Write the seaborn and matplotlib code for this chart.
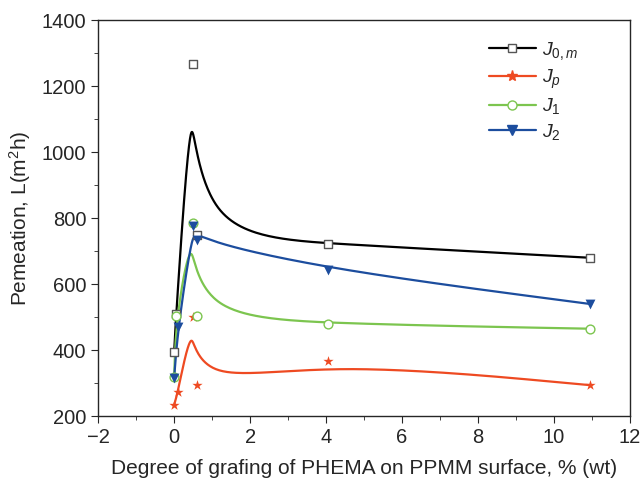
import numpy as np
import pandas as pd
import matplotlib
matplotlib.use("Agg")
import matplotlib.pyplot as plt
import seaborn as sns
from matplotlib.lines import Line2D
from matplotlib.ticker import MultipleLocator

# data
x_j0m = [0.0, 0.05, 0.5, 0.6, 4.05, 10.95]
y_j0m = [395, 510, 1268, 750, 723, 680]
x_jp = [0.0, 0.1, 0.5, 0.6, 4.05, 10.95]
y_jp = [234, 274, 501, 293, 367, 294]
x_j1 = [0.0, 0.05, 0.5, 0.6, 4.05, 10.95]
y_j1 = [320, 505, 785, 505, 480, 465]
x_j2 = [0.0, 0.1, 0.5, 0.6, 4.05, 10.95]
y_j2 = [317, 470, 775, 735, 644, 540]

labels = [r"$J_{\mathit{0,m}}$", r"$J_{\mathit{p}}$", r"$J_{\mathit{1}}$", r"$J_{\mathit{2}}$"]
colors = ["black", "#ee4a22", "#7cc54f", "#1c4d9e"]


def bspline(px, py, n=60):
    # uniform cubic B-spline, end points tripled so the curve reaches them
    P = np.column_stack([px, py]).astype(float)
    P = np.vstack([P[:1], P[:1], P, P[-1:], P[-1:]])
    M = np.array([[-1, 3, -3, 1], [3, -6, 3, 0], [-3, 0, 3, 0], [1, 4, 1, 0]]) / 6.0
    u = np.linspace(0, 1, n)
    U = np.column_stack([u ** 3, u ** 2, u, np.ones_like(u)])
    pts = [U @ M @ P[i:i + 4] for i in range(len(P) - 3)]
    pts = np.vstack(pts)
    return pts[:, 0], pts[:, 1]


sns.set_style("ticks")
plt.rcParams["font.family"] = ["Liberation Sans", "DejaVu Sans"]
plt.rcParams["mathtext.fontset"] = "custom"
plt.rcParams["mathtext.rm"] = "Liberation Sans"
plt.rcParams["mathtext.it"] = "Liberation Sans:italic"

fig = plt.figure(figsize=(6.42, 4.8), dpi=100)
ax = fig.add_axes([0.153, 0.133, 0.828, 0.825])

series = [(x_j0m, y_j0m), (x_jp, y_jp), (x_j1, y_j1), (x_j2, y_j2)]
markers = ["s", "*", "o", "v"]
handles = []
for (xs, ys), c, mk, lab in zip(series, colors, markers, labels):
    cx, cy = bspline(xs, ys)
    sns.lineplot(x=cx, y=cy, sort=False, color=c, lw=1.6, ax=ax, estimator=None)
    if mk == "s":
        kw = dict(facecolor="white", edgecolor="#555555", s=30, linewidth=1)
        hk = dict(markerfacecolor="white", markeredgecolor="#555555", markersize=6)
    elif mk == "o":
        kw = dict(facecolor="white", edgecolor=c, s=40, linewidth=1)
        hk = dict(markerfacecolor="white", markeredgecolor=c, markersize=6.5)
    elif mk == "*":
        kw = dict(color=c, s=60, linewidth=0)
        hk = dict(markerfacecolor=c, markeredgecolor=c, markersize=8)
    else:
        kw = dict(color=c, s=50, linewidth=0)
        hk = dict(markerfacecolor=c, markeredgecolor=c, markersize=7)
    sns.scatterplot(x=xs, y=ys, marker=mk, ax=ax, zorder=5, **kw)
    handles.append(Line2D([], [], color=c, lw=1.6, marker=mk, label=lab, **hk))

ax.set_xlim(-2, 12)
ax.set_ylim(200, 1400)
ax.xaxis.set_major_locator(MultipleLocator(2))
ax.xaxis.set_minor_locator(MultipleLocator(1))
ax.yaxis.set_major_locator(MultipleLocator(200))
ax.yaxis.set_minor_locator(MultipleLocator(100))
ax.tick_params(which="both", direction="out", top=False, right=False, labelsize=14.5)
ax.tick_params(which="major", length=5)
ax.tick_params(which="minor", length=3)
for s in ax.spines.values():
    s.set_linewidth(1.0)

ax.set_xlabel("Degree of grafing of PHEMA on PPMM surface, % (wt)", fontsize=15, labelpad=9)
ax.set_ylabel(r"Pemeation, L(m$^2$h)", fontsize=15, labelpad=6)

ax.legend(handles=handles, loc="upper right", bbox_to_anchor=(0.935, 0.995), frameon=False,
          fontsize=14, handlelength=2.4, labelspacing=0.3, handletextpad=0.3)

fig.savefig("out.png", dpi=100)
